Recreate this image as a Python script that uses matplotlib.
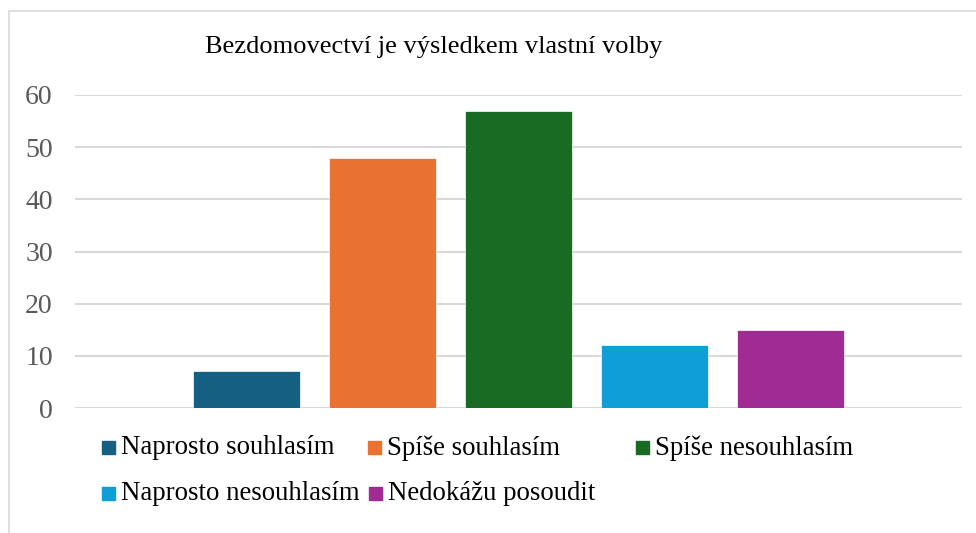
import matplotlib.pyplot as plt
from matplotlib.patches import Rectangle

# data
kategorie = ['Naprosto souhlasím', 'Spíše souhlasím', 'Spíše nesouhlasím',
             'Naprosto nesouhlasím', 'Nedokážu posoudit']
hodnoty = [7, 48, 57, 12, 15]
barvy = ['#156082', '#e97132', '#196b24', '#0f9ed5', '#a02b93']
titulek = 'Bezdomovectví je výsledkem vlastní volby'

plt.rcParams['font.family'] = ['Liberation Serif', 'DejaVu Serif']

W, H = 976, 533
fig = plt.figure(figsize=(W / 100, H / 100), dpi=100)

# okraj grafu
fig.patches.append(Rectangle((9 / W, -0.1), 1.2, 1 - 11 / H + 0.1,
                             transform=fig.transFigure, fill=False,
                             edgecolor='#d9d9d9', lw=1.2))

ax = fig.add_axes([75 / W, 1 - 408 / H, (962 - 75) / W, (408 - 95) / H])
x = list(range(len(hodnoty)))
ax.bar(x, hodnoty, width=107 / 136, color=barvy, edgecolor='white', lw=0.5, zorder=3)
ax.set_ylim(0, 60)
ax.set_xlim(2 - 443.5 / 136, 2 + 443.5 / 136)
ax.set_yticks(range(0, 61, 10))
ax.yaxis.grid(True, color='#d9d9d9', lw=1.5, zorder=0)
ax.set_xticks([])
for s in ax.spines.values():
    s.set_visible(False)
ax.tick_params(axis='y', length=0, pad=16, labelsize=20, labelcolor='#595959')

fig.text(434 / W, 1 - 47 / H, titulek, ha='center', va='center', fontsize=19)

# legenda
pozice = [(102, 447), (368, 447), (636, 447), (102, 493), (369, 493)]
for (px, py), k, c in zip(pozice, kategorie, barvy):
    fig.patches.append(Rectangle((px / W, 1 - (py + 6.5) / H), 13 / W, 13 / H,
                                 transform=fig.transFigure, color=c))
    fig.text((px + 19) / W, 1 - (py + 1) / H, k, ha='left', va='center', fontsize=19.3)

fig.savefig('out.png', dpi=100)
